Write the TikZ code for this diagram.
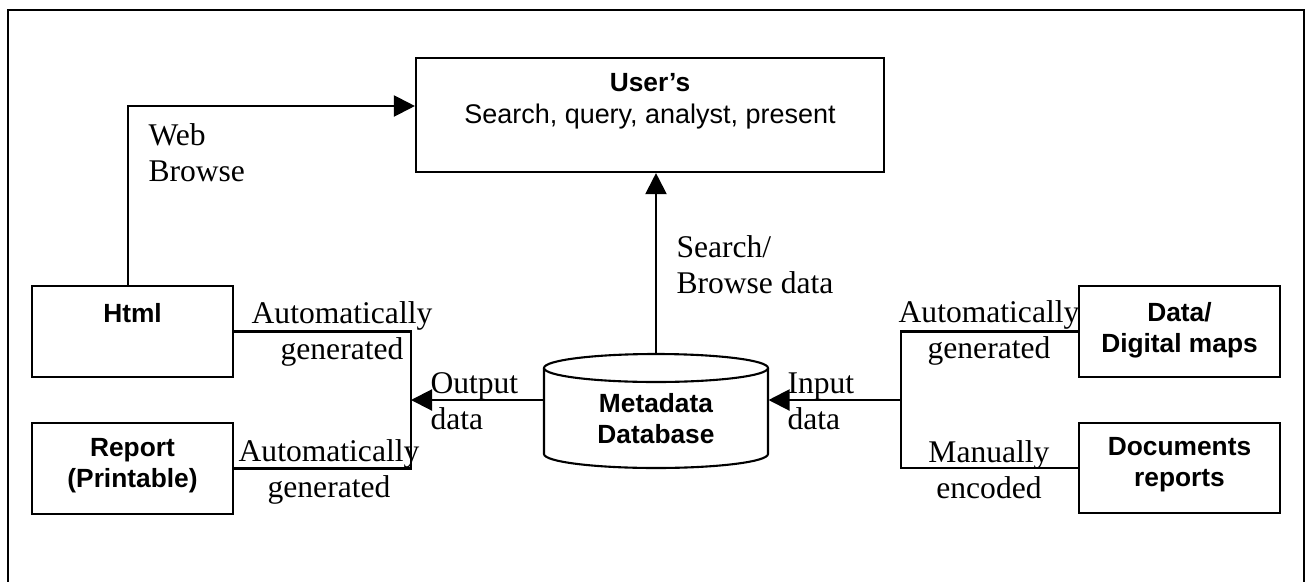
\documentclass[tikz,border=0pt]{standalone}
\usepackage{fontspec}
\setmainfont{Liberation Serif}
\setsansfont{Liberation Sans}
\usetikzlibrary{arrows.meta,calc}
\newcommand\pxu{0.38pt}
\begin{document}
\begin{tikzpicture}[x=0.38pt,y=-0.38pt,
  box/.style={draw,line width=0.8pt,rectangle,inner sep=0pt},
  lbl/.style={font=\fontsize{12}{13.8}\selectfont\rmfamily,inner sep=0pt},
  btxt/.style={font=\fontsize{10}{11.8}\selectfont\sffamily\bfseries,inner sep=0pt,align=center},
  conn/.style={line width=0.8pt},
  arr/.style={conn,-{Triangle[length=8pt,width=8pt]}}]
\useasboundingbox (0,0) rectangle (1310,581);
% outer frame
\draw[conn] (8,585) -- (8,10) -- (1304,10) -- (1304,585);
% boxes
\node[box,minimum width=468*\pxu,minimum height=114*\pxu] (users) at (650,115) {};
\node[btxt,font=\fontsize{10}{12.2}\selectfont\sffamily\bfseries] (userstxt) at (650,101) {User’s\\\mdseries\fontsize{10.25}{12.2}\selectfont Search, query, analyst, present};
\node[box,minimum width=201*\pxu,minimum height=91*\pxu] (html) at (132.5,331.5) {};
\node[btxt] (htmltxt) at (132.5,313) {Html};
\node[box,minimum width=201*\pxu,minimum height=91*\pxu] (report) at (132.5,468.5) {};
\node[btxt] (reporttxt) at (132.5,466) {Report\\(Printable)};
\node[box,minimum width=201*\pxu,minimum height=91*\pxu] (data) at (1179.5,331.5) {};
\node[btxt] (datatxt) at (1179.5,330) {Data/\\Digital maps};
\node[box,minimum width=201*\pxu,minimum height=90*\pxu] (docs) at (1179.5,468) {};
\node[btxt] (docstxt) at (1179.5,465) {Documents\\reports};
% database cylinder
\node[inner sep=0pt,minimum width=224*\pxu,minimum height=114*\pxu] (db) at (656,411) {};
\draw[conn,fill=white] (544,368) -- (544,454) arc[start angle=180,end angle=360,x radius=112*\pxu,y radius=14*\pxu] -- (768,368);
\draw[conn] (656,368) ellipse[x radius=112*\pxu,y radius=14*\pxu];
\node[btxt] (dbtxt) at (656,419) {Metadata\\Database};
% junctions
\coordinate (outj) at (411,400);
\coordinate (inj) at (901,400);
% connectors
\draw[arr] ($(html.north)+(-4.5,0)$) |- ($(users.west)+(0,-9)$);
\draw[arr] (db.north) -- (db.north |- users.south);
\draw[conn] (html.east) -| (outj |- report.east) -- (report.east);
\draw[arr] (db.west |- outj) -- (outj);
\draw[conn] (data.west) -| (inj |- docs.west) -- (docs.west);
\draw[arr] (inj) -- (db.east |- inj);
% labels
\node[lbl,align=left,anchor=west] (webl) at (148,153) {Web\\Browse};
\node[lbl,align=left,anchor=west] (sbl) at (676,265) {Search/\\Browse data};
\node[lbl,align=center] (atl) at (342,334) {Automatically\\generated};
\node[lbl,align=center] (abl) at (329,472) {Automatically\\generated};
\node[lbl,align=left,anchor=west] (outl) at (430,401) {Output\\data};
\node[lbl,align=left,anchor=west] (inl) at (787,401) {Input\\data};
\node[lbl,align=center] (atr) at (989,333) {Automatically\\generated};
\node[lbl,align=center] (mbr) at (989,470) {Manually\\encoded};
\end{tikzpicture}
\end{document}
